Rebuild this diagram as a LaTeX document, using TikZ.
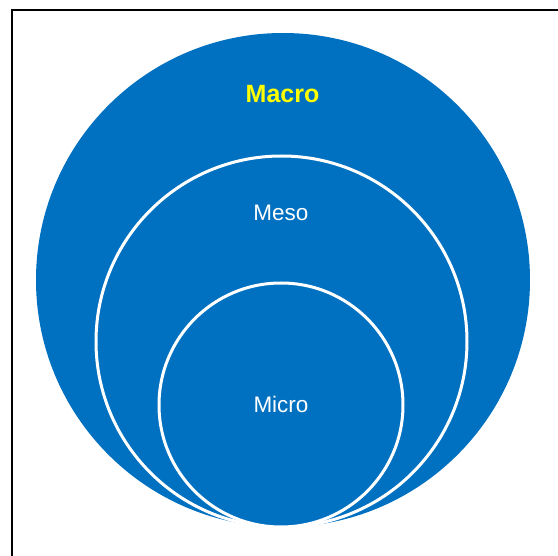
\documentclass[tikz,border=0pt]{standalone}
\usepackage{fontspec}
\setmainfont{Liberation Sans}
\definecolor{cblue}{RGB}{0,112,192}
\definecolor{cyel}{RGB}{255,255,0}
\tikzset{
  ring/.style={draw=white, line width=3pt, fill=cblue},
  lbl/.style={inner sep=0pt, text=white, font=\fontsize{22.5}{26}\selectfont},
}
\begin{document}
\begin{tikzpicture}[x=1pt,y=-1pt]
\useasboundingbox (0,0) rectangle (558,556);
\fill[white] (0,0) rectangle (558,556);
\draw[line width=2pt, black] (11.5,556) -- (11.5,10.5) -- (558,10.5);
\fill[cblue] (283,280) circle[radius=247];
\draw[ring] (281.5,341.5) circle[radius=185.5];
\draw[ring] (281,405) circle[radius=122];
\node[lbl, text=cyel, font=\fontsize{25}{29}\selectfont\bfseries] (macro) at (282.5,94) {Macro};
\node[lbl] (meso) at (281,213) {Meso};
\node[lbl] (micro) at (281,404.5) {Micro};
\end{tikzpicture}
\end{document}
